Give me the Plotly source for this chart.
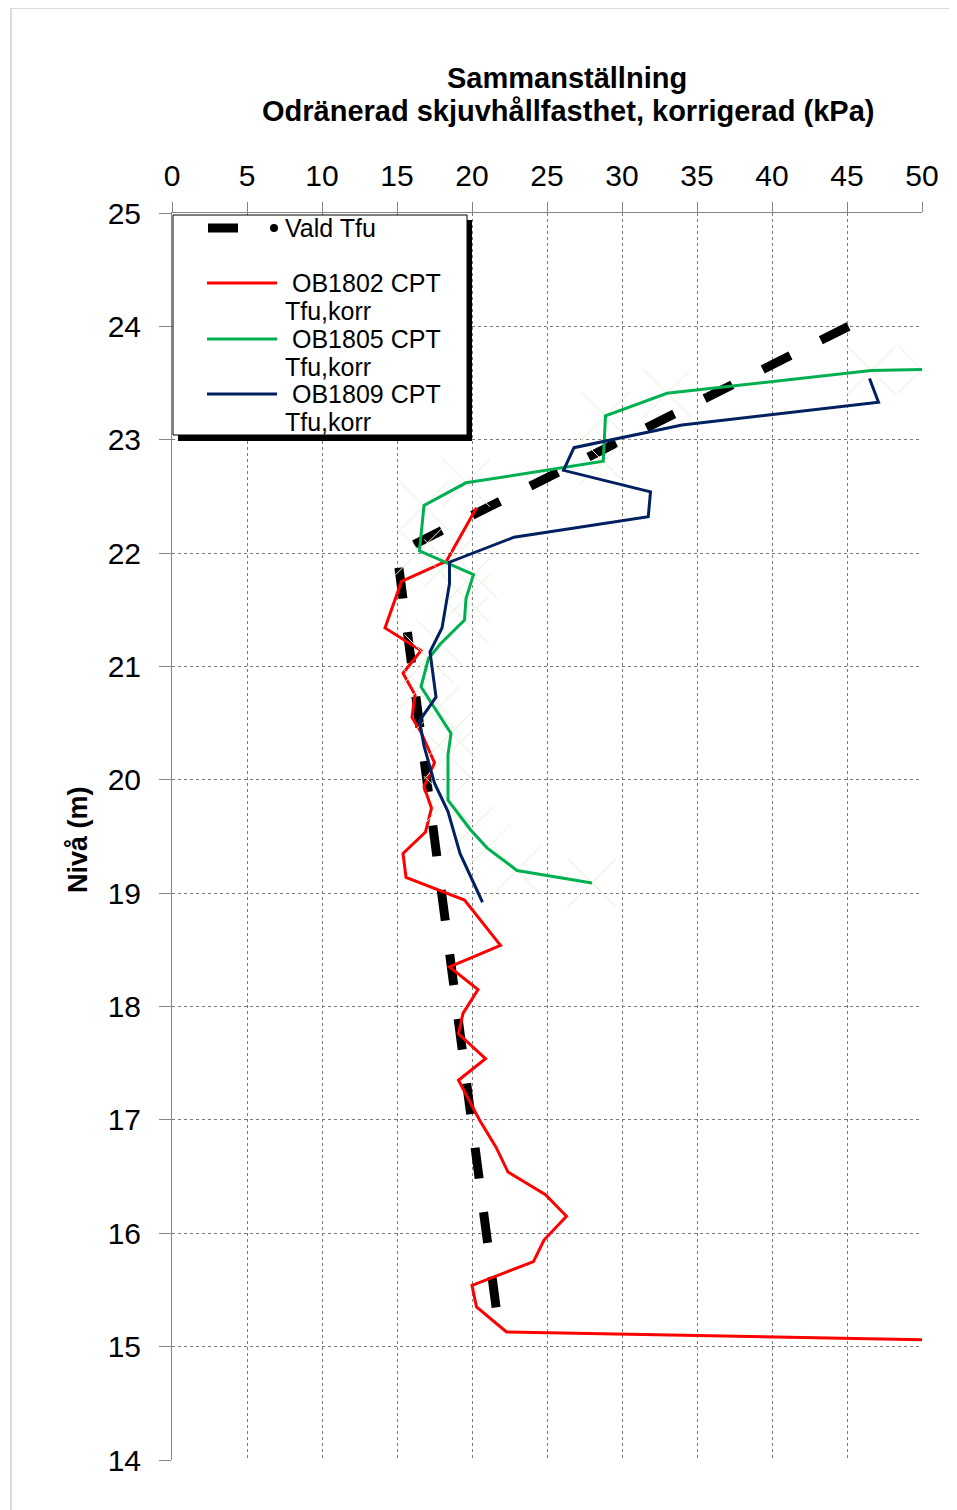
import plotly.graph_objects as go

# ---- data ----
vald_x = [45.1, 15.0, 21.7]
vald_y = [24.0, 22.0, 15.25]

red_x = [20.3, 18.3, 15.3, 14.2, 16.6, 15.4, 16.2, 16.0, 16.6, 17.5, 16.8, 17.3, 16.9, 15.4, 15.6,
         19.5, 21.9, 18.5, 20.4, 19.4, 19.1, 20.9, 19.1, 20.5, 21.6, 22.4, 24.9, 26.3, 24.8, 24.1,
         20.0, 20.3, 22.3, 50.0]
red_y = [22.4, 21.93, 21.75, 21.34, 21.14, 20.94, 20.75, 20.55, 20.42, 20.15, 19.94, 19.75, 19.54, 19.35, 19.14,
         18.94, 18.54, 18.35, 18.15, 17.94, 17.76, 17.54, 17.35, 17.0, 16.76, 16.54, 16.34, 16.15, 15.94, 15.75,
         15.54, 15.35, 15.13, 15.06]

green_x = [50.0, 46.6, 33.0, 28.9, 28.75, 19.6, 16.8, 16.5, 18.4, 20.1, 19.6, 19.5, 17.9, 17.1, 16.6,
           17.6, 18.6, 18.4, 18.4, 19.9, 21.0, 23.0, 28.0]
green_y = [23.62, 23.61, 23.41, 23.21, 22.81, 22.62, 22.42, 22.02, 21.91, 21.81, 21.6, 21.41, 21.2, 21.07, 20.82,
           20.62, 20.41, 20.22, 19.82, 19.56, 19.4, 19.2, 19.09]

blue_x = [46.5, 47.1, 34.0, 26.8, 26.1, 31.9, 31.75, 22.8, 18.5, 18.5, 18.0, 17.2, 17.6, 16.5, 16.8,
          17.5, 18.4, 19.2, 20.7]
blue_y = [23.54, 23.33, 23.13, 22.93, 22.73, 22.54, 22.32, 22.14, 21.92, 21.73, 21.34, 21.13, 20.73, 20.52, 20.3,
          19.97, 19.72, 19.35, 18.92]

x_ticks = list(range(0, 51, 5))
y_ticks = list(range(14, 26, 1))

title_line1 = "Sammanställning"
title_line2 = "Odränerad skjuvhållfasthet, korrigerad (kPa)"
y_title = "Nivå (m)"
names = ["Vald Tfu", "OB1802 CPT<br>Tfu,korr", "OB1805 CPT<br>Tfu,korr", "OB1809 CPT<br>Tfu,korr"]

FONT = "Liberation Sans, Arial, sans-serif"
OFF = 8  # page body margin
W, H = 949, 1502
L, R, T = 172 - OFF, 35, 213 - OFF
PW, PH = 750, 1247
B = H - T - PH


def px(xp):
    return (xp - OFF - L) / PW


def py(yp):
    return (T + PH - (yp - OFF)) / PH


fig = go.Figure()

fig.add_trace(go.Scatter(x=vald_x, y=vald_y, mode="lines", name="Vald Tfu",
                         line=dict(color="black", width=9, dash="31px,34px"), showlegend=False))
fig.add_trace(go.Scatter(x=red_x, y=red_y, mode="lines", name="OB1802",
                         line=dict(color="#ff0000", width=3), showlegend=False))
fig.add_trace(go.Scatter(x=green_x, y=green_y, mode="markers", name="OB1805 markers",
                         marker=dict(symbol="x-thin-open", size=48, color="#e2f0d3",
                                     line=dict(color="#e2f0d3", width=1)),
                         showlegend=False, hoverinfo="skip"))
fig.add_trace(go.Scatter(x=green_x, y=green_y, mode="lines", name="OB1805",
                         line=dict(color="#00b050", width=3), showlegend=False))
fig.add_trace(go.Scatter(x=blue_x, y=blue_y, mode="lines", name="OB1809",
                         line=dict(color="#002060", width=3), showlegend=False))

shapes = []
annotations = []

# outer border
shapes.append(dict(type="rect", xref="paper", yref="paper", x0=px(11), x1=px(975), y0=py(1530), y1=py(8),
                   line=dict(color="#d0d0d0", width=1.5), layer="below"))

# legend box with shadow
shapes.append(dict(type="rect", xref="paper", yref="paper", x0=px(178), x1=px(472), y0=py(441), y1=py(220),
                   fillcolor="black", line=dict(width=0), layer="above"))
shapes.append(dict(type="rect", xref="paper", yref="paper", x0=px(173), x1=px(467), y0=py(435), y1=py(215),
                   fillcolor="white", line=dict(color="black", width=1), layer="above"))

# legend samples
shapes.append(dict(type="line", xref="paper", yref="paper", x0=px(208), x1=px(238), y0=py(228), y1=py(228),
                   line=dict(color="black", width=9), layer="above"))
shapes.append(dict(type="circle", xref="paper", yref="paper", x0=px(270), x1=px(278), y0=py(232), y1=py(224),
                   fillcolor="black", line=dict(color="black", width=0), layer="above"))
for yy, col in [(283, "#ff0000"), (339, "#00b050"), (394, "#002060")]:
    shapes.append(dict(type="line", xref="paper", yref="paper", x0=px(207), x1=px(277), y0=py(yy), y1=py(yy),
                       line=dict(color=col, width=3), layer="above"))

LEG = 25
annotations.append(dict(text=names[0], xref="paper", yref="paper", x=px(283), y=py(228), xanchor="left",
                        yanchor="middle", showarrow=False, font=dict(family=FONT, size=LEG, color="black")))
for i, yy in enumerate([283, 339, 394]):
    l1, l2 = names[i + 1].split("<br>")
    annotations.append(dict(text=l1, xref="paper", yref="paper", x=px(290), y=py(yy), xanchor="left",
                            yanchor="middle", showarrow=False, font=dict(family=FONT, size=LEG, color="black")))
    annotations.append(dict(text=l2, xref="paper", yref="paper", x=px(283), y=py(yy + 28), xanchor="left",
                            yanchor="middle", showarrow=False, font=dict(family=FONT, size=LEG, color="black")))

# titles
annotations.append(dict(text="<b>" + title_line1 + "</b>", xref="paper", yref="paper", x=px(567), y=py(78),
                        xanchor="center", yanchor="middle", showarrow=False,
                        font=dict(family=FONT, size=29, color="black")))
annotations.append(dict(text="<b>" + title_line2 + "</b>", xref="paper", yref="paper", x=px(568), y=py(111),
                        xanchor="center", yanchor="middle", showarrow=False,
                        font=dict(family=FONT, size=29, color="black")))
annotations.append(dict(text="<b>" + y_title + "</b>", xref="paper", yref="paper", x=px(78), y=py(840),
                        xanchor="center", yanchor="middle", textangle=-90, showarrow=False,
                        font=dict(family=FONT, size=27, color="black")))

fig.update_layout(
    width=W, height=H,
    margin=dict(l=L, r=R, t=T, b=B, pad=0),
    paper_bgcolor="white", plot_bgcolor="white",
    shapes=shapes, annotations=annotations,
    showlegend=False,
)
fig.update_xaxes(range=[0, 50], side="top", tickmode="array", tickvals=x_ticks,
                 ticks="outside", ticklen=10, tickcolor="#868686", showline=True, linecolor="#868686",
                 linewidth=1, showgrid=True, gridcolor="#7a7a7a", gridwidth=1, griddash="dot",
                 ticklabelstandoff=4,
                 tickfont=dict(family=FONT, size=30, color="black"), zeroline=False, mirror=False)
fig.update_yaxes(range=[14, 25], tickmode="array", tickvals=y_ticks,
                 ticks="outside", ticklen=12, tickcolor="#868686", showline=True, linecolor="#868686",
                 linewidth=1, showgrid=True, gridcolor="#7a7a7a", gridwidth=1, griddash="dot",
                 ticklabelstandoff=12,
                 tickfont=dict(family=FONT, size=30, color="black"), zeroline=False)

fig.write_html("out.html")
